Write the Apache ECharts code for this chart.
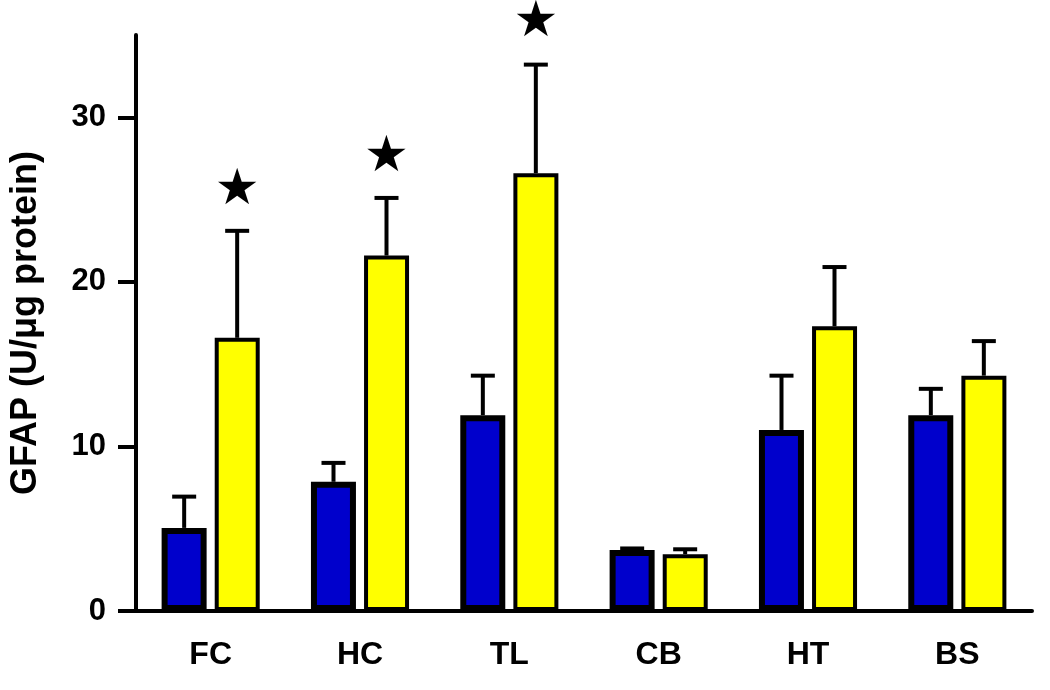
<!DOCTYPE html>
<html>
<head>
<meta charset="utf-8">
<script src="https://cdn.jsdelivr.net/npm/echarts@6/dist/echarts.min.js"></script>
<style>html,body{margin:0;padding:0;background:#fff}#c{width:1050px;height:690px}</style>
</head>
<body>
<div id="c"></div>
<script>
var categories = ['FC', 'HC', 'TL', 'CB', 'HT', 'BS'];
var blueMean = [5.05, 7.85, 11.9, 3.7, 11.0, 11.9];
var blueErr = [1.9, 1.15, 2.4, 0.1, 3.3, 1.6];
var yellowMean = [16.6, 21.6, 26.6, 3.45, 17.3, 14.3];
var yellowErr = [6.5, 3.5, 6.6, 0.3, 3.6, 2.1];
var starPos = [25.7, 27.7, 35.9, null, null, null];
var yTicks = [0, 10, 20, 30];

var BAR_OFFSET = 26.5;
var FONT = 'Liberation Sans, Arial, sans-serif';

function errSeries(means, errs, offset) {
  return {
    type: 'custom',
    z: 1,
    data: means.map(function (m, i) { return [i, m, errs[i]]; }),
    renderItem: function (params, api) {
      var i = api.value(0), m = api.value(1), e = api.value(2);
      var p0 = api.coord([i, m]);
      var p1 = api.coord([i, m + e]);
      var x = p0[0] + offset;
      var style = { stroke: '#000', lineWidth: 4 };
      return {
        type: 'group',
        children: [
          { type: 'line', shape: { x1: x, y1: p0[1], x2: x, y2: p1[1] }, style: style },
          { type: 'line', shape: { x1: x - 12, y1: p1[1], x2: x + 12, y2: p1[1] }, style: style }
        ]
      };
    }
  };
}

var chart = echarts.init(document.getElementById('c'), null, { renderer: 'canvas' });
chart.setOption({
  animation: false,
  backgroundColor: '#fff',
  grid: { left: 136, top: 35, width: 896, bottom: 79 },
  xAxis: {
    type: 'category',
    data: categories,
    axisLine: { lineStyle: { color: '#000', width: 4 } },
    axisTick: { alignWithLabel: true, length: 16, lineStyle: { color: '#000', width: 3 } },
    axisLabel: { color: '#000', fontSize: 32, fontWeight: 'bold', fontFamily: FONT, margin: 28 }
  },
  yAxis: {
    type: 'value',
    min: 0, max: 35, interval: 10,
    name: 'GFAP (U/\u03bcg protein)',
    nameLocation: 'middle',
    nameGap: 92,
    nameTextStyle: { color: '#000', fontSize: 36, fontWeight: 'bold', fontFamily: FONT },
    splitLine: { show: false },
    axisLine: { show: true, lineStyle: { color: '#000', width: 4 } },
    axisTick: { show: true, length: 18, customValues: yTicks, lineStyle: { color: '#000', width: 4 } },
    axisLabel: { color: '#000', fontSize: 31, fontWeight: 'bold', fontFamily: FONT, margin: 30, customValues: yTicks }
  },
  series: [
    errSeries(blueMean, blueErr, -BAR_OFFSET),
    errSeries(yellowMean, yellowErr, BAR_OFFSET),
    {
      type: 'bar', z: 2, data: blueMean, barWidth: 45, barGap: '18%',
      itemStyle: { color: '#0000CC', borderColor: '#000', borderWidth: 6 }
    },
    {
      type: 'bar', z: 2, data: yellowMean, barWidth: 45,
      itemStyle: { color: '#FFFF00', borderColor: '#000', borderWidth: 4 }
    },
    {
      type: 'custom', z: 3, clip: false,
      data: starPos.map(function (s, i) { return [i, s]; }).filter(function (d) { return d[1] != null; }),
      renderItem: function (params, api) {
        var p = api.coord([api.value(0), api.value(1)]);
        return {
          type: 'text',
          x: p[0] + BAR_OFFSET, y: p[1] + 3,
          style: { text: '\u2605', fill: '#000', fontSize: 50, fontFamily: 'DejaVu Sans', align: 'center', verticalAlign: 'middle' }
        };
      }
    }
  ]
});
</script>
</body>
</html>
